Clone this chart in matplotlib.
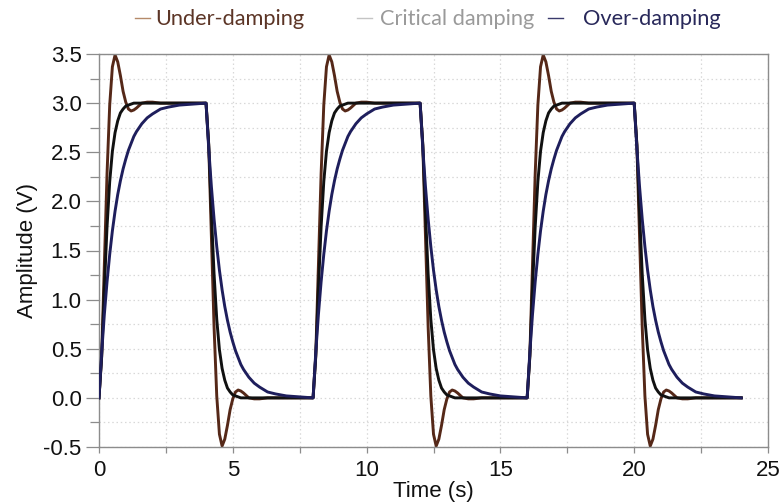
import matplotlib
matplotlib.use("Agg")
import matplotlib.pyplot as plt
from matplotlib.lines import Line2D
from matplotlib.ticker import MultipleLocator, FormatStrFormatter

# One period of the response, offsets in seconds
t_rise = [0, 0.1, 0.2, 0.3, 0.4, 0.5, 0.6, 0.7, 0.8, 0.9, 1.0, 1.1, 1.2, 1.3,
          1.4, 1.6, 1.8, 2.0, 2.3, 2.6, 3.0, 3.5, 4.0]
under_rise = [0, 0.43, 1.35, 2.28, 2.98, 3.37, 3.49, 3.42, 3.28, 3.12, 3.01, 2.94,
              2.92, 2.93, 2.95, 3.00, 3.01, 3.01, 3.00, 3.00, 3.00, 3.00, 3.00]
crit_rise = [0, 0.42, 1.12, 1.74, 2.20, 2.51, 2.70, 2.82, 2.90, 2.94, 2.97, 2.98,
             2.99, 3.00, 3.00, 3.00, 3.00, 3.00, 3.00, 3.00, 3.00, 3.00, 3.00]
over_rise = [0, 0.46, 0.85, 1.18, 1.46, 1.70, 1.90, 2.07, 2.21, 2.33, 2.43, 2.52,
             2.59, 2.66, 2.71, 2.79, 2.85, 2.89, 2.94, 2.96, 2.98, 2.99, 3.00]

under_fall = [3.00, 2.57, 1.65, 0.72, 0.02, -0.37, -0.49, -0.42, -0.28, -0.12, -0.01,
              0.06, 0.08, 0.07, 0.05, 0.00, -0.01, -0.01, 0.00, 0.00, 0.00, 0.00, 0.00]
crit_fall = [3.00, 2.58, 1.88, 1.26, 0.80, 0.49, 0.30, 0.18, 0.10, 0.06, 0.03, 0.02,
             0.01, 0.00, 0.00, 0.00, 0.00, 0.00, 0.00, 0.00, 0.00, 0.00, 0.00]
over_fall = [3.00, 2.54, 2.15, 1.82, 1.54, 1.30, 1.10, 0.93, 0.79, 0.67, 0.57, 0.48,
             0.41, 0.34, 0.29, 0.21, 0.15, 0.11, 0.06, 0.04, 0.02, 0.01, 0.00]

period_starts = [0, 8, 16]   # square-wave periods (s)
half_period = 4.0

labels = ["Under-damping", "Critical damping", "Over-damping"]
line_colors = ["#552818", "#111111", "#1e1e5c"]
swatch_colors = ["#b58a6a", "#c4c4c4", "#3a3a6c"]
text_colors = ["#5c3526", "#9a9a9a", "#28285a"]
x_ticks = [0, 5, 10, 15, 20, 25]
y_ticks = [-0.5, 0.0, 0.5, 1.0, 1.5, 2.0, 2.5, 3.0, 3.5]


def build(rise, fall):
    ts, vs = [], []
    for s in period_starts:
        ts += [s + t for t in t_rise] + [s + half_period + t for t in t_rise]
        vs += list(rise) + list(fall)
    return ts, vs


series = [build(under_rise, under_fall), build(crit_rise, crit_fall),
          build(over_rise, over_fall)]

W, H = 783, 504
fig = plt.figure(figsize=(W / 100, H / 100), dpi=100)
ax = fig.add_axes([99 / W, 1 - 447 / H, (768 - 99) / W, (447 - 54) / H])

for (ts, vs), c, z in zip(series, line_colors, [2, 3, 4]):
    ax.plot(ts, vs, color=c, lw=2.1, zorder=z, solid_joinstyle="round")

ax.set_xlim(0, 25)
ax.set_ylim(-0.5, 3.5)
ax.set_xticks(x_ticks)
ax.set_yticks(y_ticks)
ax.xaxis.set_minor_locator(MultipleLocator(2.5))
ax.yaxis.set_minor_locator(MultipleLocator(0.25))
ax.yaxis.set_major_formatter(FormatStrFormatter("%.1f"))
ax.grid(True, which="both", color="#d8d8d8", linestyle=(0, (1.2, 2.2)), lw=0.9, zorder=0)

for sp in ax.spines.values():
    sp.set_color("#8c8c8c")
    sp.set_linewidth(1.0)

font = ["Liberation Sans", "DejaVu Sans"]
ax.tick_params(which="both", direction="out", color="#8c8c8c", width=0.9)
ax.tick_params(axis="y", which="major", length=9.5, pad=3, labelsize=16)
ax.tick_params(axis="y", which="minor", length=6.5)
ax.tick_params(axis="x", which="both", length=4, pad=5, labelsize=16)
for lab in ax.get_xticklabels() + ax.get_yticklabels():
    lab.set_family(font)
    lab.set_color("#111111")

ax.set_xlabel("Time (s)", fontsize=16, family=font, color="#111111", labelpad=0)
ax.set_ylabel("Amplitude (V)", fontsize=16, family=font, color="#111111", labelpad=4)

# legend items placed as in the reference (left of swatch, left of text, in px)
legend_pos = [(135, 155), (357, 380), (548, 583)]
ly = 1 - 19 / H
for (x0, xt), lab, sc, tc in zip(legend_pos, labels, swatch_colors, text_colors):
    fig.add_artist(Line2D([x0 / W, (x0 + 15) / W], [ly + 0.002, ly + 0.002],
                          color=sc, lw=1.0, transform=fig.transFigure))
    fig.text(xt / W, ly, lab, color=tc, fontsize=15.7, family=["Lato", "DejaVu Sans"],
             ha="left", va="center")

fig.savefig("out.png", dpi=100)
